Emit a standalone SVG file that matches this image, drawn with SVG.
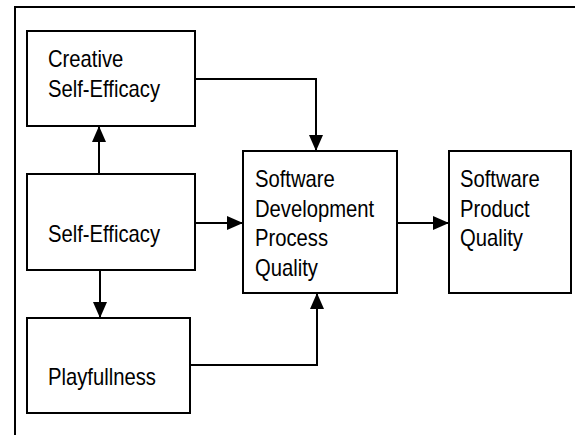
<svg xmlns="http://www.w3.org/2000/svg" width="575" height="435" viewBox="0 0 575 435">
<style>
.box{fill:#fff;stroke:#000;stroke-width:2}
.lbl{font-family:"Liberation Sans",Arial,sans-serif;font-size:23px;fill:#000}
.con{fill:none;stroke:#000;stroke-width:2}
</style>
<defs>
<marker id="ah" viewBox="0 0 16 14" refX="16" refY="7" markerWidth="16" markerHeight="14" markerUnits="userSpaceOnUse" orient="auto">
<path d="M0,0 L16,7 L0,14 z" fill="#000"/>
</marker>
</defs>
<rect width="575" height="435" fill="#fff"/>
<path d="M15,435 V7 H575" fill="none" stroke="#000" stroke-width="2"/>
<g id="creative">
<rect class="box" x="27" y="31" width="168" height="95"/>
<text class="lbl" transform="translate(48,67) scale(0.88,1)">Creative</text>
<text class="lbl" transform="translate(48,97) scale(0.88,1)">Self-Efficacy</text>
</g>
<g id="selfefficacy">
<rect class="box" x="27" y="174" width="168" height="96"/>
<text class="lbl" transform="translate(48,242) scale(0.88,1)">Self-Efficacy</text>
</g>
<g id="playfullness">
<rect class="box" x="27" y="318" width="163" height="95"/>
<text class="lbl" transform="translate(48,385) scale(0.88,1)">Playfullness</text>
</g>
<g id="sdpq">
<rect class="box" x="243" y="151" width="154" height="142"/>
<text class="lbl" transform="translate(255,187) scale(0.88,1)">Software</text>
<text class="lbl" transform="translate(255,216.5) scale(0.88,1)">Development</text>
<text class="lbl" transform="translate(255,246) scale(0.88,1)">Process</text>
<text class="lbl" transform="translate(255,275.5) scale(0.88,1)">Quality</text>
</g>
<g id="spq">
<rect class="box" x="449" y="151" width="122" height="142"/>
<text class="lbl" transform="translate(460,187) scale(0.88,1)">Software</text>
<text class="lbl" transform="translate(460,216.5) scale(0.88,1)">Product</text>
<text class="lbl" transform="translate(460,246) scale(0.88,1)">Quality</text>
</g>
<g id="connectors">
<path class="con" d="M99,174 V126" marker-end="url(#ah)"/>
<path class="con" d="M100,270 V318" marker-end="url(#ah)"/>
<path class="con" d="M195,79 H316 V151" marker-end="url(#ah)"/>
<path class="con" d="M195,223 H243" marker-end="url(#ah)"/>
<path class="con" d="M190,365 H317 V293" marker-end="url(#ah)"/>
<path class="con" d="M397,223 H449" marker-end="url(#ah)"/>
</g>
</svg>
